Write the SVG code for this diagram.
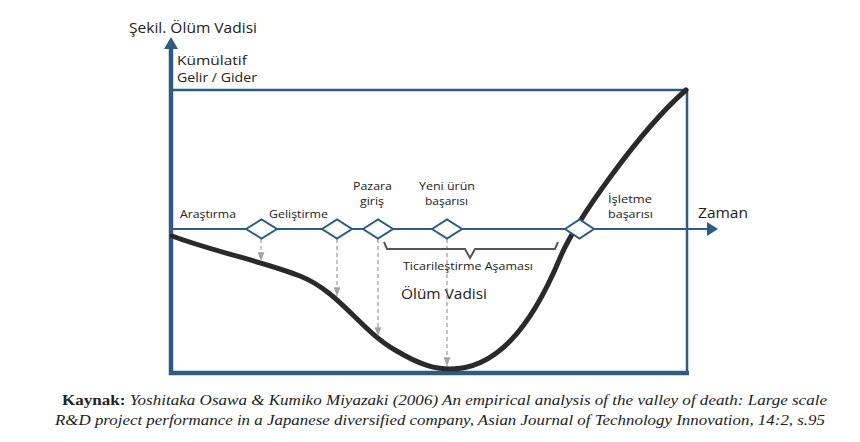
<svg xmlns="http://www.w3.org/2000/svg" width="860" height="442" viewBox="0 0 860 442">
<defs>
<style>
.lbl{font-family:"Open Sans","Noto Sans",sans-serif;fill:#222;}
.s10{font-size:10.5px;}
.s11{font-size:11px;}
.s13{font-size:13px;}
.s14{font-size:14px;}
.s15{font-size:15px;}
.axis{stroke:#2e5b82;fill:none;}
.dia{fill:#fff;stroke:#2e5b82;stroke-width:2;}
.dash{stroke:#a3a3a3;stroke-width:1.3;stroke-dasharray:4 3;fill:none;}
.cap{font-family:"Liberation Serif","DejaVu Serif",serif;font-size:14.5px;fill:#222;}
</style>
<marker id="ga" viewBox="0 0 10 8" refX="10" refY="4" markerWidth="9" markerHeight="7" markerUnits="userSpaceOnUse" orient="auto">
<path d="M0,0 L10,4 L0,8 Z" fill="#a3a3a3"/>
</marker>
</defs>
<rect width="860" height="442" fill="#fff"/>
<text class="lbl s14" x="129" y="33" textLength="128" lengthAdjust="spacingAndGlyphs">Şekil. Ölüm Vadisi</text>
<g id="frame">
<line class="axis" x1="171" y1="47" x2="171" y2="375" stroke-width="4.5"/>
<path d="M171,37 L178,49 L164,49 Z" fill="#2e5b82"/>
<line class="axis" x1="169" y1="373" x2="689" y2="373" stroke-width="4.5"/>
<line class="axis" x1="171" y1="90" x2="688" y2="90" stroke-width="2.5"/>
<line class="axis" x1="687" y1="89" x2="687" y2="372" stroke-width="2.5"/>
<text class="lbl s13" x="177" y="65" textLength="70" lengthAdjust="spacingAndGlyphs">Kümülatif</text>
<text class="lbl s13" x="177" y="82" textLength="80" lengthAdjust="spacingAndGlyphs">Gelir / Gider</text>
</g>
<g id="curve">
<path d="M172,236 C215,252 265,262 300,276 C340,292 360,330 395,350 C420,365 435,369 450,369 C495,369 530,330 560,258 C575,222 640,130 686,90" fill="none" stroke="#2a2a2a" stroke-width="5" stroke-linecap="round"/>
</g>
<g id="connectors">
<line class="axis" x1="172" y1="229" x2="708" y2="229" stroke-width="2"/>
<path d="M718,229 L707,222 L707,236 Z" fill="#2e5b82"/>
<line class="dash" x1="261" y1="239" x2="261" y2="261" marker-end="url(#ga)"/>
<line class="dash" x1="337" y1="239" x2="337" y2="296" marker-end="url(#ga)"/>
<line class="dash" x1="378" y1="239" x2="378" y2="336" marker-end="url(#ga)"/>
<line class="dash" x1="447" y1="239" x2="447" y2="366" marker-end="url(#ga)"/>
</g>
<g id="n-arastirma">
<polygon class="dia" points="246,229 261.5,219.5 277,229 261.5,238.5"/>
<text class="lbl s11" x="180" y="218" textLength="56" lengthAdjust="spacingAndGlyphs">Araştırma</text>
</g>
<g id="n-gelistirme">
<polygon class="dia" points="322,229 337,219.5 352,229 337,238.5"/>
<text class="lbl s11" x="269" y="218" textLength="59" lengthAdjust="spacingAndGlyphs">Geliştirme</text>
</g>
<g id="n-pazara">
<polygon class="dia" points="363,229 378,219.5 393,229 378,238.5"/>
<text class="lbl s10" x="372.5" y="190" text-anchor="middle" textLength="39" lengthAdjust="spacingAndGlyphs">Pazara</text>
<text class="lbl s10" x="372" y="204.5" text-anchor="middle" textLength="24" lengthAdjust="spacingAndGlyphs">giriş</text>
</g>
<g id="n-yeni">
<polygon class="dia" points="432,229 447,219.5 462,229 447,238.5"/>
<text class="lbl s10" x="447" y="190" text-anchor="middle" textLength="56" lengthAdjust="spacingAndGlyphs">Yeni ürün</text>
<text class="lbl s10" x="446.5" y="204.5" text-anchor="middle" textLength="43" lengthAdjust="spacingAndGlyphs">başarısı</text>
</g>
<g id="n-isletme">
<polygon class="dia" points="565,229 579.5,219.5 594,229 579.5,238.5"/>
<text class="lbl s11" x="608" y="203" textLength="44" lengthAdjust="spacingAndGlyphs">İşletme</text>
<text class="lbl s11" x="608" y="218" textLength="45" lengthAdjust="spacingAndGlyphs">başarısı</text>
</g>
<g id="zaman">
<text class="lbl s15" x="698" y="218" textLength="50" lengthAdjust="spacingAndGlyphs">Zaman</text>
</g>
<g id="brace">
<path d="M384,242 L387,249 L465,249 L470,258 L475,249 L555,249 L558,242" fill="none" stroke="#555" stroke-width="2"/>
<text class="lbl s11" x="468" y="270" text-anchor="middle" textLength="130" lengthAdjust="spacingAndGlyphs">Ticarileştirme Aşaması</text>
</g>
<g id="valley">
<text class="lbl s15" x="401" y="299" textLength="86" lengthAdjust="spacingAndGlyphs">Ölüm Vadisi</text>
</g>
<g id="caption">
<text class="cap" x="62" y="405" textLength="765" lengthAdjust="spacingAndGlyphs"><tspan font-weight="bold" font-style="normal">Kaynak:</tspan><tspan font-style="italic"> Yoshitaka Osawa &amp; Kumiko Miyazaki (2006) An empirical analysis of the valley of death: Large scale</tspan></text>
<text class="cap" x="55" y="425" font-style="italic" textLength="770" lengthAdjust="spacingAndGlyphs">R&amp;D project performance in a Japanese diversified company, Asian Journal of Technology Innovation, 14:2, s.95</text>
</g>
</svg>
